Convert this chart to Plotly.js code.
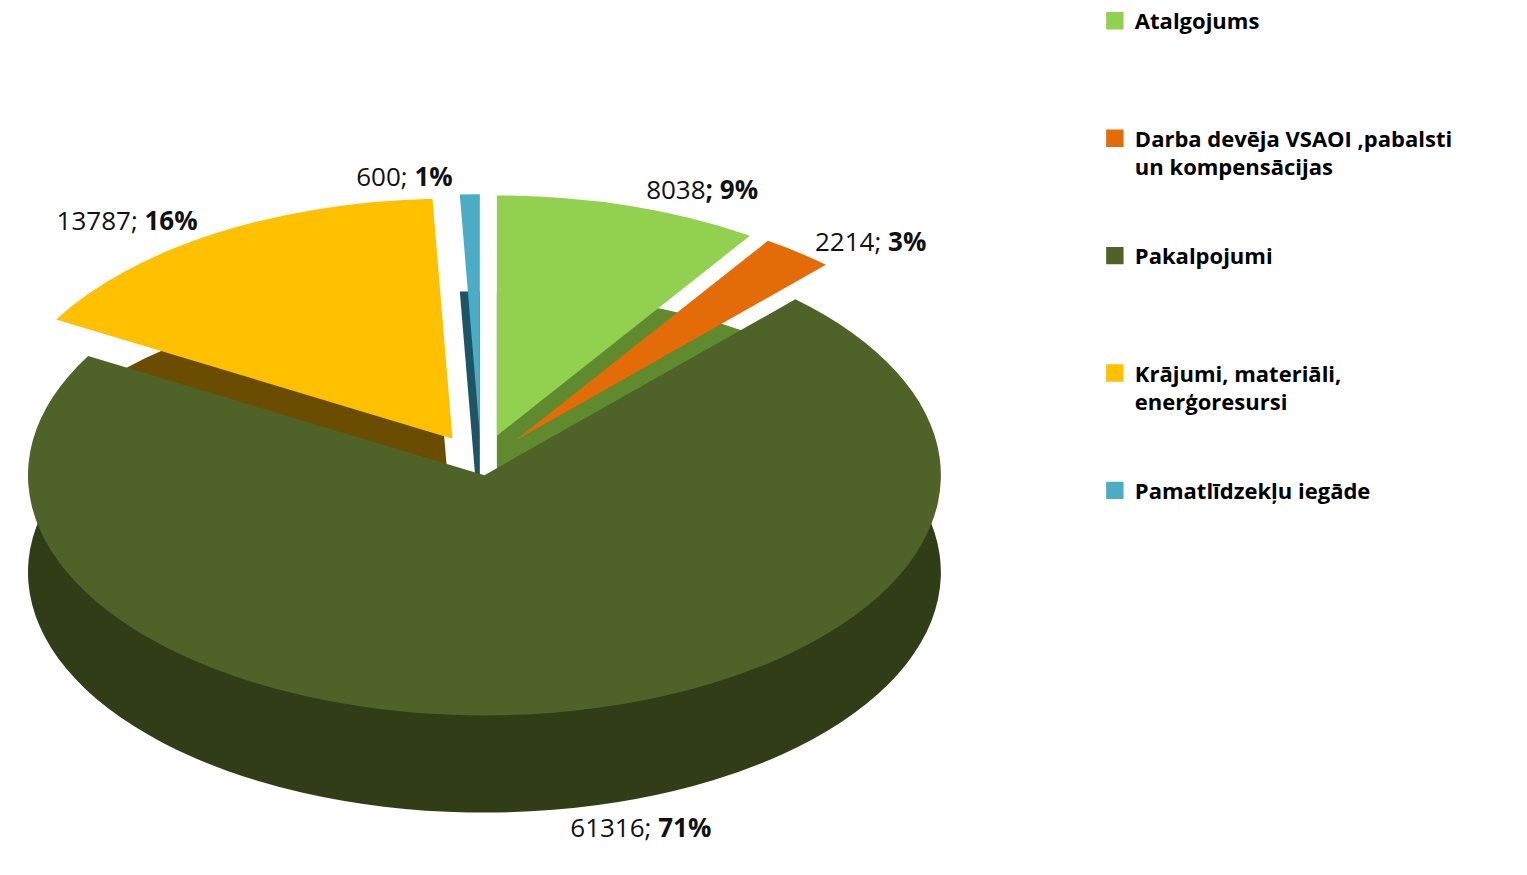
<!DOCTYPE html>
<html>
<head>
<meta charset="utf-8">
<script src="https://cdn.plot.ly/plotly-3.0.1.min.js"></script>
<style>html,body{margin:0;padding:0;background:#fff;}#chart{width:1527px;height:875px;}</style>
</head>
<body>
<div id="chart"></div>
<script>
// Data
const categories = [
  "Atalgojums",
  "Darba devēja VSAOI ,pabalsti<br>un kompensācijas",
  "Pakalpojumi",
  "Krājumi, materiāli,<br>enerģoresursi",
  "Pamatlīdzekļu iegāde"
];
const values = [8038, 2214, 61316, 13787, 600];
// legend spacing padding (blank lines under each entry)
const legendPad = ["<br> <br> <br> ", "<br> <br> ", "<br> <br> <br> ", "<br> <br> ", ""];

const topColors  = ["#92D050", "#E36C09", "#4F6228", "#FFC000", "#4BACC6"];
const sideColors = ["#5F8A2E", "#8A4108", "#303D17", "#6B4D00", "#1E5566"];
const pulls = [0.12, 0.12, 0.05, 0.12, 0.12];
const LBL = "%{value:d}; <b>%{percent:.0%}</b>";
const topTemplates  = ["%{value:d}<b>; %{percent:.0%}</b>", LBL, "", LBL, LBL];
const sideTemplates = ["", "", LBL, "", ""];

const labels = categories.map((c, i) => c + legendPad[i]);
const FONT = "Open Sans, Noto Sans, Liberation Sans, sans-serif";
const STRETCH = 1.9;

const sideTrace = {
  type: "pie",
  labels: labels,
  values: values,
  sort: false,
  direction: "clockwise",
  rotation: 0,
  pull: pulls,
  marker: {colors: sideColors, line: {width: 0}},
  textposition: "outside",
  texttemplate: sideTemplates,
  outsidetextfont: {family: FONT, size: 26, color: "#111111"},
  hoverinfo: "skip",
  showlegend: false,
  domain: {x: [0, 0.63], y: [0.052, 0.667]}
};

const topTrace = {
  type: "pie",
  labels: labels,
  values: values,
  sort: false,
  direction: "clockwise",
  rotation: 0,
  pull: pulls,
  marker: {colors: topColors, line: {width: 0}},
  textposition: "outside",
  texttemplate: topTemplates,
  outsidetextfont: {family: FONT, size: 26, color: "#111111"},
  hovertemplate: "%{label}: %{value}<extra></extra>",
  domain: {x: [0, 0.63], y: [0.163, 0.778]}
};

const layout = {
  width: 1527,
  height: 875,
  margin: {l: 0, r: 0, t: 0, b: 0},
  paper_bgcolor: "#ffffff",
  showlegend: true,
  legend: {
    x: 0.717, y: 1.0, xanchor: "left", yanchor: "top",
    valign: "top",
    font: {family: FONT, size: 22, color: "#000000", weight: "bold"},
    itemclick: false
  },
  font: {family: FONT}
};

Plotly.newPlot("chart", [sideTrace, topTrace], layout, {displayModeBar: false, staticPlot: true}).then(function (gd) {
  // perspective: stretch the pie horizontally about its centre, keep text undistorted
  const cx = gd.calcdata[1][0].cx;
  const svgRect = gd.querySelector(".main-svg").getBoundingClientRect();
  gd.querySelectorAll(".pielayer g.trace").forEach(function (tr) {
    tr.querySelectorAll("g.slicetext").forEach(function (st) {
      const r = st.getBoundingClientRect();
      if (!r.width) return;
      const mid = r.left + r.width / 2 - svgRect.left;
      // anchor on the edge nearest the pie centre
      const px = (mid < cx ? r.right : r.left) - svgRect.left;
      const py = r.top + r.height / 2 - svgRect.top;
      const old = st.getAttribute("transform") || "";
      st.setAttribute("transform",
        "translate(" + px + "," + py + ") scale(" + (1 / STRETCH) + ",1) translate(" + (-px) + "," + (-py) + ") " + old);
    });
    tr.setAttribute("transform",
      "translate(" + cx + ",0) scale(" + STRETCH + ",1) translate(" + (-cx) + ",0)");
  });
  // larger legend swatches
  gd.querySelectorAll(".legend .legendpoints path").forEach(function (p) {
    const old = p.getAttribute("transform") || "";
    p.setAttribute("transform", old + " scale(1.45)");
  });
});
</script>
</body>
</html>
